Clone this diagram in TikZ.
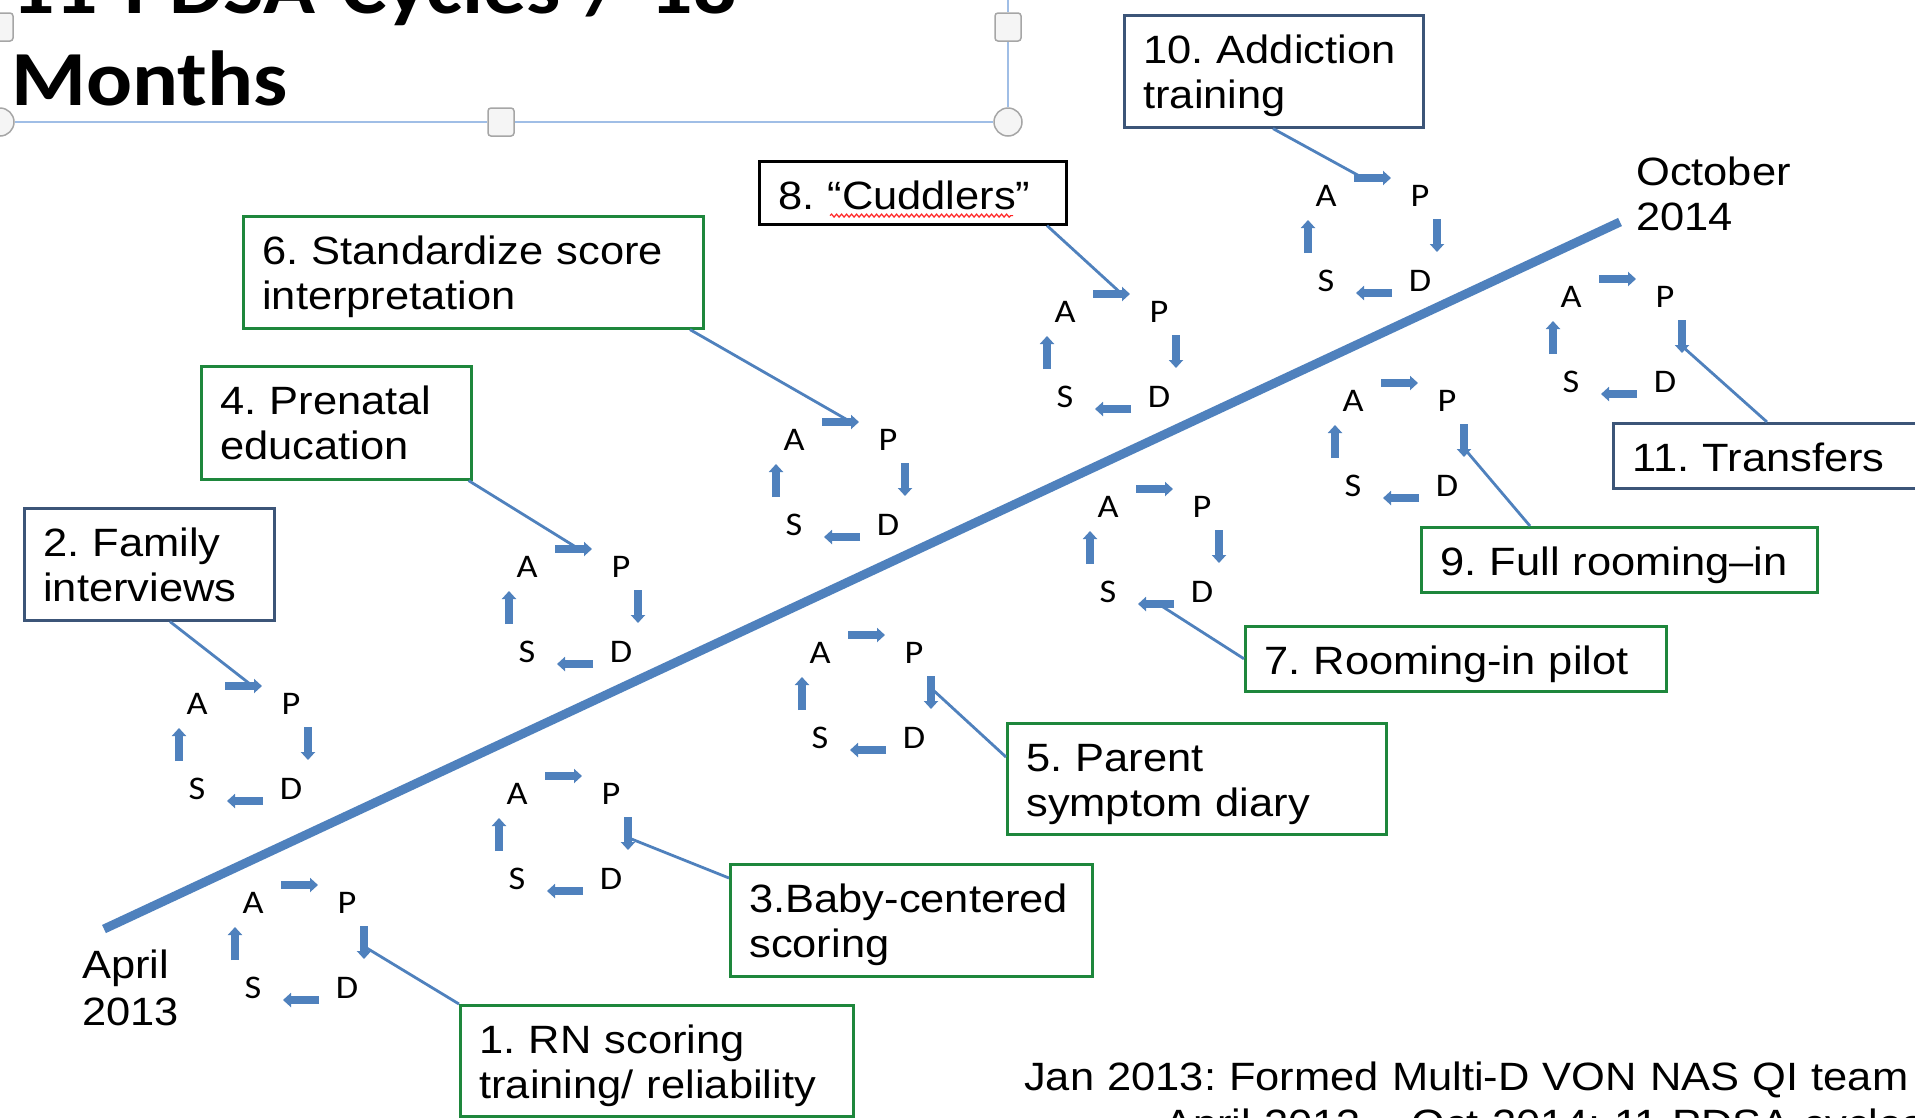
\documentclass[tikz,border=0pt]{standalone}
\usepackage{fontspec}
\setmainfont{Liberation Sans}[FakeStretch=1.1]
\newfontfamily\calfont{Carlito}[FakeStretch=1.1]
\usetikzlibrary{arrows.meta,calc,decorations.pathmorphing}
\frenchspacing
\definecolor{tlblue}{RGB}{79,129,189}
\definecolor{boxgreen}{RGB}{30,135,60}
\definecolor{boxslate}{RGB}{60,85,120}
\definecolor{selblue}{RGB}{160,190,230}
\tikzset{
  tbox/.style={draw=#1, line width=2.6pt, anchor=north west, inner xsep=19pt, inner ysep=0pt,
    align=left, font=\fontsize{39.5}{45}\selectfont, text height=48pt},
  ltr/.style={inner sep=0pt, font=\calfont\fontsize{33}{33}\selectfont},
  cyc/.style={draw=tlblue, line width=8pt, -{Triangle[width=14pt,length=8pt]}},
  conn/.style={draw=tlblue, line width=2.8pt},
  tline/.style={draw=tlblue, line width=9pt},
  selline/.style={draw=selblue, line width=2pt},
  hsq/.style={draw=gray!70, fill=gray!8, rounded corners=3pt, minimum width=26pt, minimum height=28pt, line width=1.5pt, inner sep=0pt},
  hci/.style={draw=gray!70, fill=gray!8, circle, minimum size=28pt, line width=1.5pt, inner sep=0pt},
  plain/.style={inner sep=0pt, align=left, anchor=base west}
}
\newcommand\pdsacyc[3]{%
  \coordinate (#1) at (#2,#3);
  \node[ltr] (#1a) at ($(#1)+(-47,-42)$) {A};
  \node[ltr] (#1p) at ($(#1)+(47,-42)$) {P};
  \node[ltr] (#1s) at ($(#1)+(-47,43)$) {S};
  \node[ltr] (#1d) at ($(#1)+(47,43)$) {D};
  \draw[cyc] ($(#1)+(-19,-60)$) -- ($(#1)+(18,-60)$);
  \draw[cyc] ($(#1)+(64,-19)$) -- ($(#1)+(64,14)$);
  \draw[cyc] ($(#1)+(19,55)$) -- ($(#1)+(-17,55)$);
  \draw[cyc] ($(#1)+(-65,15)$) -- ($(#1)+(-65,-18)$);
}
\begin{document}
\begin{tikzpicture}[x=1pt,y=-1pt]
\useasboundingbox (0,0) rectangle (1915,1117);
\fill[white] (0,0) rectangle (1915,1117);
\clip (0,0) rectangle (1915,1117);

% title and selection frame
\node[plain, text width=1100pt, font=\calfont\bfseries\fontsize{78}{92}\selectfont] (title) at (11,13) {11 PDSA Cycles / 18\\Months};
\node[hsq] (h1) at (0,27) {};
\node[hci] (h2) at (0,122) {};
\node[hsq] (h3) at (501,122) {};
\node[hci] (h4) at (1008,122) {};
\node[hsq] (h5) at (1008,27) {};
\coordinate (ftop) at (1008,-5);
\draw[selline] (h2.east) -- (h3.west) (h3.east) -- (h4.west) (h4.north) -- (h5.south) (h5.north) -- (ftop);

% timeline
\coordinate (tl0) at (104,929);
\coordinate (tl1) at (1620,222);
\draw[tline] (tl0) -- (tl1);
\node[plain, text width=200pt, font=\fontsize{39.5}{47}\selectfont] (apr) at (82,978) {April\\2013};
\node[plain, text width=200pt, font=\fontsize{39.5}{45}\selectfont] (oct) at (1636,185) {October\\2014};

% boxes
\node[tbox=boxslate, text width=261pt, text depth=64pt] (b10) at (1123,14) {\mbox{10. Addiction}\\\mbox{training}};
\node[tbox=black, text width=269pt, text depth=15pt] (b8) at (758,160) {\mbox{8. “Cuddlers”}};
\node[tbox=boxgreen, text width=422pt, text depth=64pt] (b6) at (242,215) {\mbox{6. Standardize score}\\\mbox{interpretation}};
\node[tbox=boxgreen, text width=232pt, text depth=65pt] (b4) at (200,365) {\mbox{4. Prenatal}\\\mbox{education}};
\node[tbox=boxslate, text width=212pt, text depth=64pt] (b2) at (23,507) {\mbox{2. Family}\\\mbox{interviews}};
\node[tbox=boxslate, text width=292pt, text depth=17pt] (b11) at (1612,422) {\mbox{11. Transfers}};
\node[tbox=boxgreen, text width=358pt, text depth=17pt] (b9) at (1420,526) {\mbox{9. Full rooming–in}};
\node[tbox=boxgreen, text width=383pt, text depth=17pt] (b7) at (1244,625) {\mbox{7. Rooming-in pilot}};
\node[tbox=boxgreen, text width=341pt, text depth=63pt] (b5) at (1006,722) {\mbox{5. Parent}\\\mbox{symptom diary}};
\node[tbox=boxgreen, text width=324pt, text depth=64pt] (b3) at (729,863) {\mbox{3.Baby-centered}\\\mbox{scoring}};
\node[tbox=boxgreen, text width=355pt, text depth=63pt] (b1) at (459,1004) {\mbox{1. RN scoring}\\\mbox{training/ reliability}};

\draw[red!85, line width=1.2pt, decorate, decoration={snake, amplitude=1.5pt, segment length=5pt}]
  ($(b8.south west)+(72,-10)$) -- ($(b8.south west)+(255,-10)$);

% cycle centres
\coordinate (c1) at (300,945);
\coordinate (c2) at (244,746);
\coordinate (c3) at (564,836);
\coordinate (c4) at (574,609);
\coordinate (c5) at (867,695);
\coordinate (c6) at (841,482);
\coordinate (c7) at (1155,549);
\coordinate (c8) at (1112,354);
\coordinate (c9) at (1400,443);
\coordinate (c10) at (1373,238);
\coordinate (c11) at (1618,339);

% connectors
\draw[conn] ($(b10.south west)+(150,0)$) -- ($(c10)+(-10,-60)$);
\draw[conn] ($(b8.south west)+(289,0)$) -- ($(c8)+(12,-58)$);
\draw[conn] ($(b6.south west)+(448,0)$) -- ($(c6)+(10,-60)$);
\draw[conn] ($(b4.south east)+(-4,0)$) -- ($(c4)+(5,-60)$);
\draw[conn] ($(b2.south west)+(147,0)$) -- ($(c2)+(6,-62)$);
\draw[conn] (b1.north west) -- ($(c1)+(65,2)$);
\draw[conn] ($(b3.north west)+(0,15)$) -- ($(c3)+(65,2)$);
\draw[conn] ($(b5.north west)+(0,35)$) -- ($(c5)+(65,-6)$);
\draw[conn] (b7.west) -- ($(c7)+(5,56)$);
\draw[conn] ($(b9.north west)+(110,0)$) -- ($(c9)+(63,4)$);
\draw[conn] ($(b11.north west)+(155,0)$) -- ($(c11)+(65,8)$);

% cycles
\pdsacyc{k1}{300}{945}
\pdsacyc{k2}{244}{746}
\pdsacyc{k3}{564}{836}
\pdsacyc{k4}{574}{609}
\pdsacyc{k5}{867}{695}
\pdsacyc{k6}{841}{482}
\pdsacyc{k7}{1155}{549}
\pdsacyc{k8}{1112}{354}
\pdsacyc{k9}{1400}{443}
\pdsacyc{k10}{1373}{238}
\pdsacyc{k11}{1618}{339}

% bottom note
\node[plain, text width=1000pt, font=\fontsize{39.5}{47}\selectfont] (note) at (1024,1090)
  {\mbox{Jan 2013: Formed Multi-D VON NAS QI team}\\\mbox{\hspace*{140pt}April 2013 – Oct 2014: 11 PDSA cycles}};
\end{tikzpicture}
\end{document}
